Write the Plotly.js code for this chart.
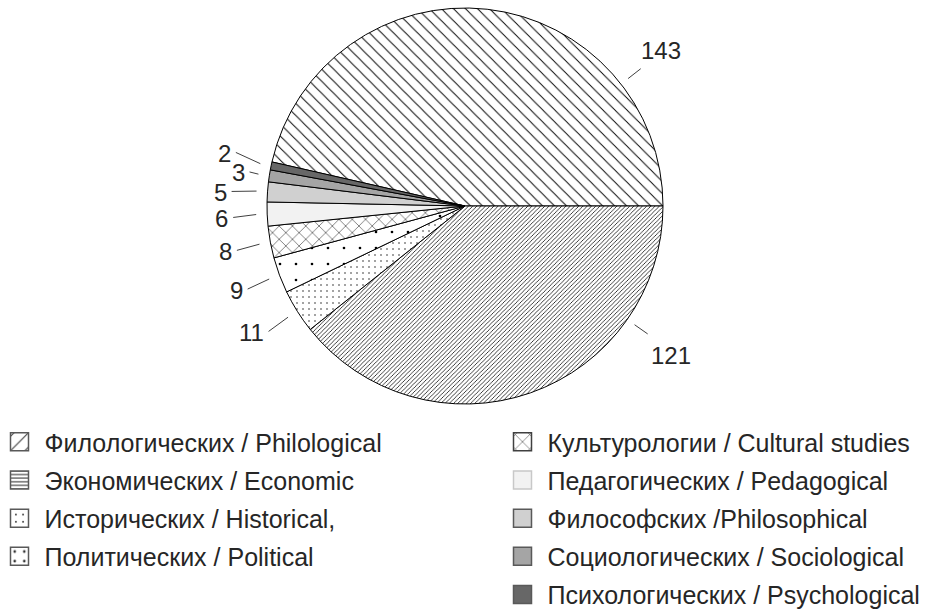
<!DOCTYPE html>
<html><head><meta charset="utf-8">
<script src="https://cdn.plot.ly/plotly-3.0.1.min.js"></script>
<style>html,body{margin:0;padding:0;background:#fff}#chart{width:928px;height:610px}</style>
</head><body><div id="chart"></div>
<script>
// ---------- data ----------
const categories = [
  'Филологических / Philological',
  'Экономических / Economic',
  'Исторических / Historical,',
  'Политических / Political',
  'Культурологии / Cultural studies',
  'Педагогических / Pedagogical',
  'Философских /Philosophical',
  'Социологических / Sociological',
  'Психологических / Psychological'
];
const counts = [143, 121, 11, 9, 8, 6, 5, 3, 2];
const legendColumn = ['legend','legend','legend','legend','legend2','legend2','legend2','legend2','legend2'];

// ---------- styles / layout constants ----------
const W = 928, H = 610;
const CX = 465, CY = 206, R = 198;
const FONT = 'Liberation Sans, Arial, sans-serif';
const TXT = '#262626';
const sliceColors = ['#ffffff','#ffffff','#ffffff','#ffffff','#ffffff','#f2f2f2','#d0d0d0','#a5a5a5','#676767'];
const slicePattern = ['\\','/','.','.','x','','','',''];
const slicePatternSize = [8.5, 3, 6, 16, 9.4, 8, 8, 8, 8];
const slicePatternSolidity = [0.11, 0.25, 0.04, 0.022, 0.1, 0.3, 0.3, 0.3, 0.3];
const legendPattern = ['/','-','.','.','x','','','',''];
const legendPatternSize = [8.5, 3, 6, 8, 8.5, 8, 8, 8, 8];
const legendPatternSolidity = [0.1, 0.3, 0.06, 0.06, 0.1, 0.3, 0.3, 0.3, 0.3];
const legendBorder = ['#595959','#595959','#595959','#595959','#404040','#c8c8c8','#595959','#595959','#595959'];
const labelAngleOverride = {0: 38, 1: -35};
const MIN_GAP = 19.5;     // min vertical distance between left labels
const CLEAR_GAP = 26;     // below this, alternate line lengths so labels sit side by side
const LONG = 36, SHORT = 20;

// ---------- geometry derived from data ----------
const total = counts.reduce((a, b) => a + b, 0);
const rotation = 90 - 360 * counts[0] / total;  // first slice ends at 3 o'clock
let acc = 0;
const midAngles = counts.map(v => {
  const a0 = rotation + 360 * acc / total; acc += v;
  const a1 = rotation + 360 * acc / total;
  return 90 - (a0 + a1) / 2;   // math angle, ccw from 3 o'clock
});

const px = x => x / W, py = y => 1 - y / H;
const annotations = [], shapes = [];
const labels = counts.map((v, i) => {
  const th = (labelAngleOverride[i] !== undefined ? labelAngleOverride[i] : midAngles[i]) * Math.PI / 180;
  const right = Math.cos(th) > 0;
  const r1 = right ? R + 9 : R + 11;
  const r2 = right ? R + 25 : R + 34;
  return {v, th, right, r1, r2,
    x1: CX + r1 * Math.cos(th), y1: CY - r1 * Math.sin(th),
    x2: CX + r2 * Math.cos(th), y2: CY - r2 * Math.sin(th)};
});
// spread left-side labels vertically, then alternate line length where they are still close
const left = labels.filter(l => !l.right).sort((a, b) => a.y2 - b.y2);
left.forEach(l => { l.ty = l.y2 + 3; });
for (let k = left.length - 2; k >= 0; k--) {
  if (left[k].ty > left[k + 1].ty - MIN_GAP) left[k].ty = left[k + 1].ty - MIN_GAP;
}
left.forEach((l, k) => {
  const prev = left[k - 1], next = left[k + 1];
  const closePrev = prev && (l.ty - prev.ty) < CLEAR_GAP;
  const closeNext = next && (next.ty - l.ty) < CLEAR_GAP;
  if (closePrev && !prev.short) l.short = true;
  if (closePrev || closeNext) {
    const r2 = R + (l.short ? SHORT : LONG);
    l.x2 = CX + r2 * Math.cos(l.th);
  }
});
labels.forEach(l => {
  let ax, ay, xa, lx2 = l.x2, ly2 = l.y2;
  if (l.right) {
    xa = 'left'; ax = l.x2 - 2 + (Math.sin(l.th) > 0 ? 0 : 3);
    ay = Math.sin(l.th) > 0 ? l.y2 - 18 : l.y2 + 22;
  } else {
    xa = 'right'; ax = l.x2 - 3; ay = l.ty; ly2 = l.ty - 1;
  }
  shapes.push({type: 'line', xref: 'paper', yref: 'paper', x0: px(l.x1), y0: py(l.y1), x1: px(lx2), y1: py(ly2),
    line: {color: '#404040', width: 1}});
  annotations.push({xref: 'paper', yref: 'paper', x: px(ax), y: py(ay), xanchor: xa, yanchor: 'middle',
    text: String(l.v), showarrow: false, font: {family: FONT, size: 24, color: TXT}});
});

// ---------- traces ----------
const pie = {
  type: 'pie', labels: categories, values: counts, sort: false, direction: 'clockwise', rotation: rotation,
  textinfo: 'none', hoverinfo: 'label+value', showlegend: false,
  domain: {x: [(CX - R) / W, (CX + R) / W], y: [1 - (CY + R) / H, 1 - (CY - R) / H]},
  marker: {colors: sliceColors, line: {color: '#000', width: 1},
    pattern: {shape: slicePattern, size: slicePatternSize, solidity: slicePatternSolidity,
      fgcolor: '#000', bgcolor: '#fff', fillmode: 'replace'}}
};
const legendTraces = categories.map((c, i) => ({
  type: 'bar', x: [null], y: [null], name: c, legend: legendColumn[i], legendgroup: 'g' + i,
  hoverinfo: 'skip',
  marker: {color: sliceColors[i], line: {color: legendBorder[i], width: 1},
    pattern: legendPattern[i] ? {shape: legendPattern[i], size: legendPatternSize[i], solidity: legendPatternSolidity[i],
      fgcolor: '#333', bgcolor: '#fff', fillmode: 'replace'} : {shape: ''}}
}));

const legendCommon = {orientation: 'v', xref: 'paper', yref: 'paper', xanchor: 'left', yanchor: 'top',
  font: {family: FONT, size: 25, color: TXT}, itemwidth: 40, traceorder: 'grouped', tracegroupgap: 2.7,
  bgcolor: 'rgba(0,0,0,0)', borderwidth: 0, itemclick: false, itemdoubleclick: false};

const layout = {
  width: W, height: H, margin: {l: 0, r: 0, t: 0, b: 0, autoexpand: false},
  paper_bgcolor: '#fff', plot_bgcolor: '#fff', font: {family: FONT, color: TXT},
  xaxis: {visible: false}, yaxis: {visible: false},
  showlegend: true,
  legend: Object.assign({}, legendCommon, {x: -5.5 / W, y: py(419)}),
  legend2: Object.assign({}, legendCommon, {x: 497.5 / W, y: py(419)}),
  annotations: annotations, shapes: shapes
};

Plotly.newPlot('chart', [pie].concat(legendTraces), layout, {staticPlot: true, displayModeBar: false}).then(() => {
  document.querySelectorAll('g.legendpoints path').forEach(p => {
    p.setAttribute('transform', (p.getAttribute('transform') || '') + ' scale(1.5)');
  });
});
</script>
</body></html>
